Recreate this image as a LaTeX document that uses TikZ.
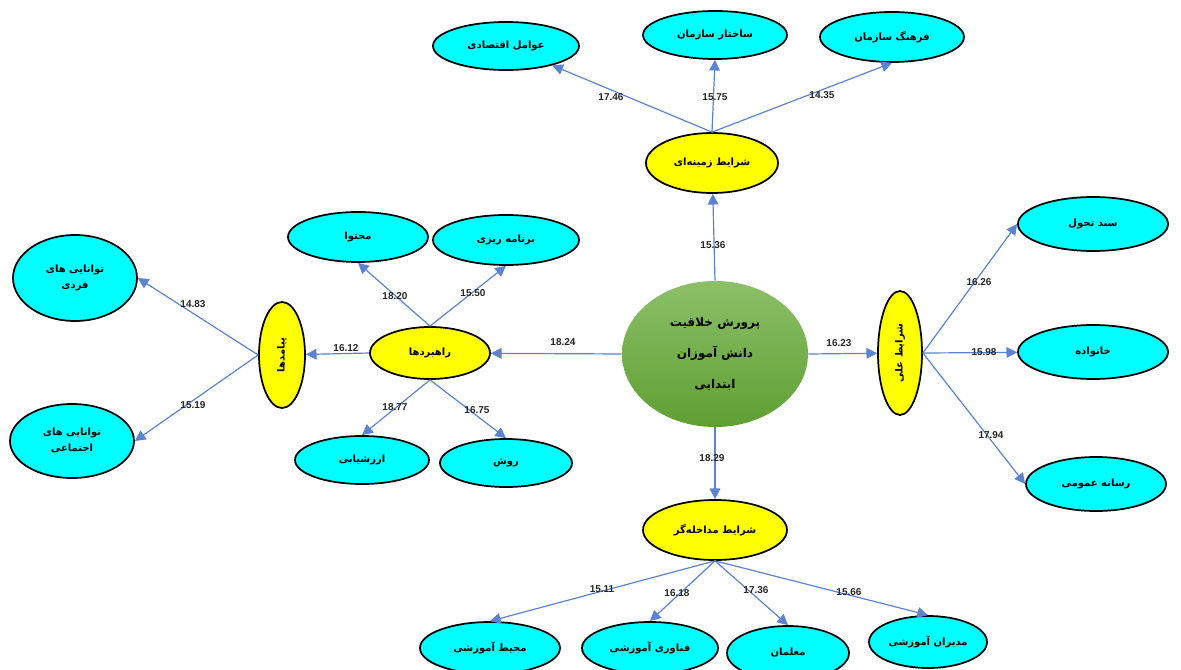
\documentclass[tikz,border=0pt]{standalone}
\usepackage{fontspec}
\setmainfont{Liberation Sans}
\newfontfamily\fa[Script=Arabic]{DejaVu Sans}
\TeXXeTstate=1
\usetikzlibrary{shapes.geometric,arrows.meta}
\definecolor{edgeblue}{HTML}{5B83D2}
\definecolor{cyanfill}{HTML}{00FFFF}
\definecolor{yel}{HTML}{FFFF00}
\definecolor{gtop}{HTML}{8CC068}
\definecolor{gbot}{HTML}{5E9F32}
\begin{document}
\begin{tikzpicture}[x=0.75pt,y=-0.75pt,
  base/.style={ellipse, inner sep=0pt, align=center, font=\fa\bfseries\fontsize{7.5}{12}\selectfont},
  cy/.style 2 args={base, draw=black, line width=1.3pt, fill=cyanfill, minimum width=#1*0.75pt, minimum height=#2*0.75pt},
  ye/.style 2 args={base, draw=black, line width=1.3pt, fill=yel, minimum width=#1*0.75pt, minimum height=#2*0.75pt},
  conn/.style={draw=edgeblue, line width=0.9pt, -{Triangle[width=8pt,length=8pt]}},
  num/.style={font=\bfseries\fontsize{7.5}{9}\selectfont, text=black!85, inner sep=1pt},
  vlab/.style={rotate=90, font=\fa\bfseries\fontsize{7.5}{9}\selectfont}
]
\useasboundingbox (0,0) rectangle (1181,670);

% central node
\node[base, top color=gtop, bottom color=gbot, minimum width=186*0.75pt, minimum height=146*0.75pt,
  font=\fa\bfseries\fontsize{9}{23}\selectfont] (g) at (715,354)
  {\beginR پرورش خلاقیت\endR\\\beginR دانش آموزان\endR\\\beginR ابتدایی\endR};

% top
\node[ye={132}{60}] (zt) at (712,163) {\beginR شرایط زمینه‌ای\endR};
\node[cy={146}{48}] (t1) at (506,46) {\beginR عوامل اقتصادی\endR};
\node[cy={144}{48}] (t2) at (715,35) {\beginR ساختار سازمان\endR};
\node[cy={144}{50}] (t3) at (892,37) {\beginR فرهنگ سازمان\endR};

% right
\node[ye={44}{124}] (ali) at (900,353) {};
\node[vlab] (alitext) at (ali.center) {\beginR شرایط علی\endR};
\node[cy={150}{54}] (r1) at (1093,224) {\beginR سند تحول\endR};
\node[cy={150}{54}] (r2) at (1093,352) {\beginR خانواده\endR};
\node[cy={140}{54}] (r3) at (1096,484) {\beginR رسانه عمومی\endR};

% bottom
\node[ye={144}{60}] (md) at (715,530) {\beginR شرایط مداخله‌گر\endR};
\node[cy={140}{52}] (b1) at (490,648) {\beginR محیط آموزشی\endR};
\node[cy={136}{52}] (b2) at (650,648) {\beginR فناوری آموزشی\endR};
\node[cy={122}{54}] (b3) at (788,653) {\beginR معلمان\endR};
\node[cy={118}{52}] (b4) at (928,642) {\beginR مدیران آموزشی\endR};

% left
\node[ye={120}{52}] (rah) at (430,353) {\beginR راهبردها\endR};
\node[cy={140}{50}] (m1) at (358,237) {\beginR محتوا\endR};
\node[cy={146}{50}] (m2) at (506,240) {\beginR برنامه ریزی\endR};
\node[cy={134}{48}] (m3) at (362,460) {\beginR ارزشیابی\endR};
\node[cy={132}{48}] (m4) at (506,463) {\beginR روش\endR};
\node[ye={46}{106}] (pay) at (282,355) {};
\node[vlab] (paytext) at (pay.center) {\beginR پیامدها\endR};
\node[cy={124}{86}] (l1) at (75,278) {\beginR توانایی های\endR\\\beginR فردی\endR};
\node[cy={124}{74}] (l2) at (72,441) {\beginR توانایی های\endR\\\beginR اجتماعی\endR};

% connectors
\draw[conn] (g.north) -- (zt);
\draw[conn] (zt.north) -- (t1);
\draw[conn] (zt.north) -- (t2.south);
\draw[conn] (zt.north) -- (t3.south);
\draw[conn] (g.east) -- (ali);
\draw[conn] (ali.east) -- (r1.west);
\draw[conn] (ali.east) -- (r2);
\draw[conn] (ali.east) -- (r3.west);
\draw[conn] (g.south) -- (md);
\draw[conn] (md.south) -- (b1.north);
\draw[conn] (md.south) -- (b2.north);
\draw[conn] (md.south) -- (b3.north);
\draw[conn] (md.south) -- (b4.north);
\draw[conn] (g.west) -- (rah);
\draw[conn] (rah.west) -- (pay);
\draw[conn] (rah.north) -- (m1.south);
\draw[conn] (rah.north) -- (m2.south);
\draw[conn] (rah.south) -- (m3.north);
\draw[conn] (rah.south) -- (m4.north);
\draw[conn] (pay.west) -- (l1.east);
\draw[conn] (pay.west) -- (l2.east);

% labels
\node[num] (n1) at (713,245) {15.36};
\node[num] (n2) at (611,97) {17.46};
\node[num] (n3) at (715,97) {15.75};
\node[num] (n4) at (822,95) {14.35};
\node[num] (n5) at (563,342) {18.24};
\node[num] (n6) at (346,348) {16.12};
\node[num] (n7) at (395,296) {18.20};
\node[num] (n8) at (473,293) {15.50};
\node[num] (n9) at (395,407) {18.77};
\node[num] (n10) at (477,410) {16.75};
\node[num] (n11) at (193,304) {14.83};
\node[num] (n12) at (193,405) {15.19};
\node[num] (n13) at (839,343) {16.23};
\node[num] (n14) at (979,282) {16.26};
\node[num] (n15) at (984,352) {15.98};
\node[num] (n16) at (991,435) {17.94};
\node[num] (n17) at (712,458) {18.29};
\node[num] (n18) at (602,589) {15.11};
\node[num] (n19) at (677,593) {16.18};
\node[num] (n20) at (756,590) {17.36};
\node[num] (n21) at (849,592) {15.66};
\end{tikzpicture}
\end{document}
